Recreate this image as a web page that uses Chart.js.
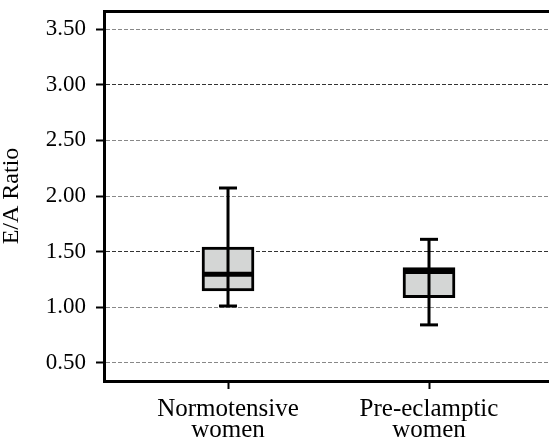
<!DOCTYPE html>
<html>
<head>
<meta charset="utf-8">
<script src="https://cdn.jsdelivr.net/npm/chart.js@4/dist/chart.umd.min.js"></script>
<style>
  html, body { margin: 0; padding: 0; background: #fff; }
  #wrap { width: 549px; height: 438px; }
  .warm { font-family: 'Liberation Serif'; position: absolute; left: -1000px; top: 0; }
</style>
</head>
<body>
<span class="warm">0123456789. Normotensive women Pre-eclamptic E/A Ratio</span>
<div id="wrap"><canvas id="c" width="549" height="438"></canvas></div>
<script>
// ---- data ----
const categories = [['Normotensive', 'women'], ['Pre-eclamptic', 'women']];
const categoryPos = [1, 2];
const whiskerLow = [1.01, 0.84];
const q1 = [1.145, 1.085];
const median = [1.295, 1.32];
const q3 = [1.54, 1.355];
const whiskerHigh = [2.072, 1.61];
const yTicks = [0.5, 1.0, 1.5, 2.0, 2.5, 3.0, 3.5];
const yTitle = 'E/A Ratio';

const SERIF = "'Liberation Serif', 'Times New Roman', serif";
Chart.defaults.font.family = SERIF;

const boxData = categoryPos.map((x, i) => ({ x: x, y: [q1[i], q3[i]] }));
const whiskerData = [];
categoryPos.forEach((x, i) => {
  whiskerData.push({ x: x, y: whiskerLow[i] });
  whiskerData.push({ x: x, y: whiskerHigh[i] });
  whiskerData.push({ x: x + 0.5, y: null });
});
const capData = [];
categoryPos.forEach((x, i) => {
  capData.push({ x: x, y: whiskerLow[i] });
  capData.push({ x: x, y: whiskerHigh[i] });
});
const medianData = categoryPos.map((x, i) => ({ x: x, y: median[i] }));

const frameTop = {
  id: 'frameTop',
  afterDraw(chart) {
    const { ctx, chartArea } = chart;
    ctx.save();
    ctx.strokeStyle = '#000';
    ctx.lineWidth = 3;
    ctx.beginPath();
    ctx.moveTo(chartArea.left - 1, chartArea.top + 0.5);
    ctx.lineTo(chartArea.right, chartArea.top + 0.5);
    ctx.stroke();
    ctx.restore();
  }
};

function build() {
  new Chart(document.getElementById('c'), {
    data: {
      datasets: [
        {
          type: 'bar',
          data: boxData,
          backgroundColor: '#d4d6d5',
          borderColor: '#000',
          borderWidth: 3,
          borderSkipped: false,
          barThickness: 52,
          grouped: false,
          order: 3
        },
        {
          type: 'line',
          data: whiskerData,
          borderColor: '#000',
          borderWidth: 3,
          pointRadius: 0,
          spanGaps: false,
          order: 2
        },
        {
          type: 'scatter',
          data: capData,
          pointStyle: 'line',
          pointRadius: 9,
          borderColor: '#000',
          borderWidth: 3,
          order: 1
        },
        {
          type: 'scatter',
          data: medianData,
          pointStyle: 'line',
          pointRadius: 25,
          borderColor: '#000',
          borderWidth: 5,
          order: 0
        }
      ]
    },
    plugins: [frameTop],
    options: {
      responsive: false,
      animation: false,
      events: [],
      layout: { autoPadding: false, padding: { top: 11, right: 0, bottom: 0, left: 0 } },
      plugins: { legend: { display: false }, tooltip: { enabled: false } },
      scales: {
        x: {
          type: 'linear',
          offset: false,
          min: 0.383,
          max: 2.597,
          afterBuildTicks: (s) => { s.ticks = categoryPos.map(v => ({ value: v })); },
          afterFit: (s) => { s.height = 57; s.paddingLeft = 0; s.paddingRight = 0; },
          grid: { offset: false, drawOnChartArea: false, drawTicks: true, tickLength: 8, tickColor: '#000', tickWidth: 2 },
          border: { display: true, color: '#000', width: 3 },
          ticks: {
            padding: 10,
            color: '#000',
            maxRotation: 0,
            autoSkip: false,
            font: { family: SERIF, size: 25, lineHeight: 0.84 },
            callback: (v) => { const i = categoryPos.indexOf(v); return i >= 0 ? categories[i] : ''; }
          }
        },
        y: {
          type: 'linear',
          min: 0.335,
          max: 3.665,
          afterBuildTicks: (s) => { s.ticks = yTicks.map(v => ({ value: v })); },
          afterFit: (s) => { s.width = 104; s.paddingTop = 0; s.paddingBottom = 0; },
          grid: {
            drawOnChartArea: true,
            color: (c) => (c.tick && (c.tick.value === 3 || c.tick.value === 1.5)) ? '#333' : '#888',
            lineWidth: 1,
            drawTicks: true,
            tickLength: 8,
            tickColor: '#000',
            tickWidth: 2
          },
          border: { display: true, color: '#000', width: 3, dash: [4, 2] },
          ticks: {
            padding: 10,
            color: '#000',
            font: { family: SERIF, size: 23 },
            callback: (v) => Number(v).toFixed(2)
          },
          title: {
            display: true,
            text: yTitle,
            color: '#000',
            padding: 0,
            font: { family: SERIF, size: 24, lineHeight: 1 }
          }
        }
      }
    }
  });
}

if (document.fonts && document.fonts.load) {
  document.fonts.load("22px 'Liberation Serif'").then(build, build);
} else {
  build();
}
</script>
</body>
</html>
